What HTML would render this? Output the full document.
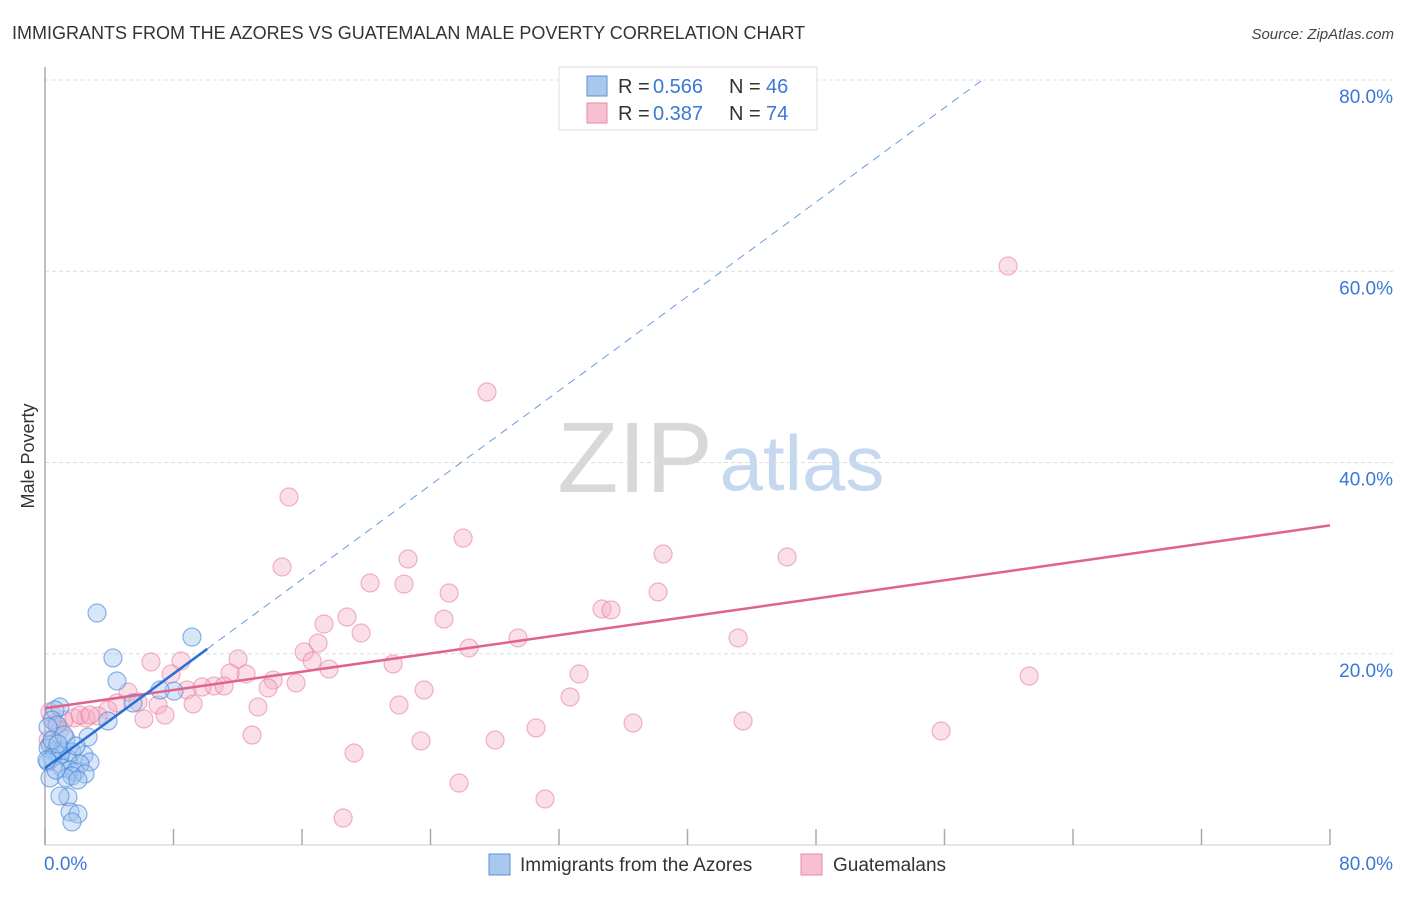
<!DOCTYPE html>
<html><head><meta charset="utf-8"><style>
body{margin:0;background:#fff;font-family:"Liberation Sans",sans-serif;}
svg text{font-family:"Liberation Sans",sans-serif;}
</style></head><body>
<svg id="chart" width="1406" height="892" viewBox="0 0 1406 892" xmlns="http://www.w3.org/2000/svg">
<text x="12" y="39" font-size="18" fill="#333">IMMIGRANTS FROM THE AZORES VS GUATEMALAN MALE POVERTY CORRELATION CHART</text>
<text x="1394" y="39" font-size="15" fill="#444" text-anchor="end" font-style="italic">Source: ZipAtlas.com</text>
<g>
<text x="635" y="492" font-size="100" fill="#d8d8d8" text-anchor="middle" font-family="Liberation Serif, serif">ZIP</text>
<text x="802" y="490" font-size="78" fill="#c5d8f0" text-anchor="middle">atlas</text>
</g>
<g id="grid"></g>
<g id="axes"></g>
<g id="marks"></g>
<text transform="translate(34,456) rotate(-90)" font-size="18" fill="#333" text-anchor="middle">Male Poverty</text>
<g>
<rect x="559" y="67" width="258" height="63" fill="#fff" stroke="#ddd"/>
<rect x="587" y="76" width="20" height="20" fill="#a9c8ee" stroke="#5b8fd8"/>
<rect x="587" y="103" width="20" height="20" fill="#f7c0d0" stroke="#e98aa5"/>
<text x="618" y="93" font-size="20" fill="#333">R = </text><text x="653" y="93" font-size="20" fill="#3a78d8">0.566</text>
<text x="729" y="93" font-size="20" fill="#333">N = </text><text x="766" y="93" font-size="20" fill="#3a78d8">46</text>
<text x="618" y="120" font-size="20" fill="#333">R = </text><text x="653" y="120" font-size="20" fill="#3a78d8">0.387</text>
<text x="729" y="120" font-size="20" fill="#333">N = </text><text x="766" y="120" font-size="20" fill="#3a78d8">74</text>
</g>
<g>
<rect x="489" y="854" width="21" height="21" fill="#a9c8ee" stroke="#5b8fd8"/>
<text x="520" y="871" font-size="19" fill="#333">Immigrants from the Azores</text>
<rect x="801" y="854" width="21" height="21" fill="#f7c0d0" stroke="#e98aa5"/>
<text x="833" y="871" font-size="19" fill="#333">Guatemalans</text>
</g>
</svg>
<script>
const yTicks=[20,40,60,80];
const yTickLabels=["20.0%","40.0%","60.0%","80.0%"];
const xTicks=[0,8,16,24,32,40,48,56,64,72,80];
const xEndLabels=["0.0%","80.0%"];
const azoresX=[3.24,9.15,4.23,4.48,8.03,7.16,5.48,3.92,0.93,0.62,0.44,0.75,0.19,2.68,1.31,0.31,1.06,0.62,0.19,1.68,2.43,1.43,0.93,2.8,0.44,2.18,0.19,1.06,1.56,1.87,2.49,1.68,1.31,2.05,0.31,0.68,0.12,1.43,0.93,1.56,2.05,1.68,0.44,1.18,0.81,1.93];
const azoresY=[24.26,21.75,19.56,17.15,16.1,16.21,14.85,12.97,14.43,14.12,13.07,12.55,12.34,11.29,11.08,10.46,9.93,9.73,10.14,9.73,9.41,8.99,9.41,8.68,9.1,8.47,8.68,8.05,7.84,7.63,7.42,7.22,7.01,6.8,7.01,7.84,8.89,5.02,5.12,3.45,3.24,2.41,10.98,11.5,10.56,10.35];
const guatX=[59.96,27.52,15.19,26.03,38.48,46.2,22.6,14.76,20.24,22.35,25.16,38.17,34.68,35.24,18.8,24.84,17.37,19.68,17.0,29.45,43.15,26.4,16.13,16.63,6.6,8.47,17.68,21.67,12.02,33.25,61.27,12.52,14.2,7.85,11.52,15.63,13.89,8.84,10.52,9.78,11.15,23.6,32.69,5.17,5.79,9.22,7.04,13.26,22.04,4.48,3.92,3.3,7.47,6.16,2.55,1.81,1.18,36.61,43.46,30.57,55.79,12.89,23.41,28.02,19.24,25.78,31.13,18.56,0.62,0.93,0.31,0.19,2.18,2.8];
const guatY=[60.55,47.37,36.39,32.1,30.43,30.12,29.91,29.07,27.4,27.29,26.35,26.46,24.68,24.58,23.84,23.63,23.11,22.17,21.12,21.65,21.65,20.6,20.18,19.24,19.14,19.24,18.4,18.93,19.45,17.88,17.67,17.88,17.25,17.88,17.99,16.94,16.42,16.21,16.63,16.52,16.63,16.21,15.48,16.0,14.95,14.75,14.64,14.43,14.64,14.85,14.12,13.49,13.59,13.18,13.28,13.28,13.07,12.76,12.97,12.24,11.92,11.5,10.88,10.98,9.62,6.48,4.81,2.82,12.76,12.03,13.91,10.98,13.59,13.59];
const azoresTrend=[8.05,1.233];
const azoresSolidEnd=10.1;
const guatTrend=[14.3,0.239];

const NS="http://www.w3.org/2000/svg";
const X0=45,X1=1330,Y0=845,Y1=80;
const sx=v=>X0+(v/80)*(X1-X0);
const sy=v=>Y0-(v/80)*(Y0-Y1);
function mk(tag,attrs,parent){const e=document.createElementNS(NS,tag);for(const k in attrs)e.setAttribute(k,attrs[k]);parent.appendChild(e);return e;}
const grid=document.getElementById('grid'),axes=document.getElementById('axes'),marks=document.getElementById('marks');
yTicks.forEach((t,i)=>{
 const l=mk('line',{x1:X0,x2:1394,y1:sy(t),y2:sy(t),stroke:'#ddd','stroke-dasharray':'4,3'},grid);
 
 
 const tx=mk('text',{x:1393,y:sy(t)+23,'font-size':19,fill:'#3a78d8','text-anchor':'end'},grid);
 tx.textContent=yTickLabels[i];
 
 
});
const ya=mk('line',{x1:X0,x2:X0,y1:67,y2:Y0,stroke:'#aaa','stroke-width':1.5},axes);


const xa=mk('line',{x1:X0,x2:X1,y1:Y0,y2:Y0,stroke:'#ccc'},axes);


xTicks.forEach(t=>{
 const l=mk('line',{x1:sx(t),x2:sx(t),y1:Y0-16,y2:Y0,stroke:'#aaa','stroke-width':1.5},axes);
 
 
});
const xl0=mk('text',{x:44,y:870,'font-size':19,fill:'#3a78d8'},axes);xl0.textContent=xEndLabels[0];


const xl1=mk('text',{x:1393,y:870,'font-size':19,fill:'#3a78d8','text-anchor':'end'},axes);xl1.textContent=xEndLabels[1];



guatX.forEach((x,i)=>{
 const c=mk('circle',{cx:sx(x),cy:sy(guatY[i]),r:9,fill:'rgba(244,170,195,0.38)',stroke:'rgba(230,120,155,0.55)','stroke-width':1.2},marks);
 
 
});
azoresX.forEach((x,i)=>{
 const c=mk('circle',{cx:sx(x),cy:sy(azoresY[i]),r:9,fill:'rgba(160,195,238,0.42)',stroke:'rgba(70,130,215,0.6)','stroke-width':1.2},marks);
 
 
});
const gl=mk('line',{x1:sx(0),y1:sy(guatTrend[0]),x2:sx(80),y2:sy(guatTrend[0]+80*guatTrend[1]),stroke:'#e0628e','stroke-width':2.5},marks);


const al=mk('line',{x1:sx(0),y1:sy(azoresTrend[0]),x2:sx(azoresSolidEnd),y2:sy(azoresTrend[0]+azoresSolidEnd*azoresTrend[1]),stroke:'#2a6fd6','stroke-width':2.5},marks);


const xEnd=(80-azoresTrend[0])/azoresTrend[1];
const ad=mk('line',{x1:sx(azoresSolidEnd),y1:sy(azoresTrend[0]+azoresSolidEnd*azoresTrend[1]),x2:sx(xEnd),y2:sy(80),stroke:'#6a9be0','stroke-width':1,'stroke-dasharray':'8,6'},marks);


</script>
</body></html>
